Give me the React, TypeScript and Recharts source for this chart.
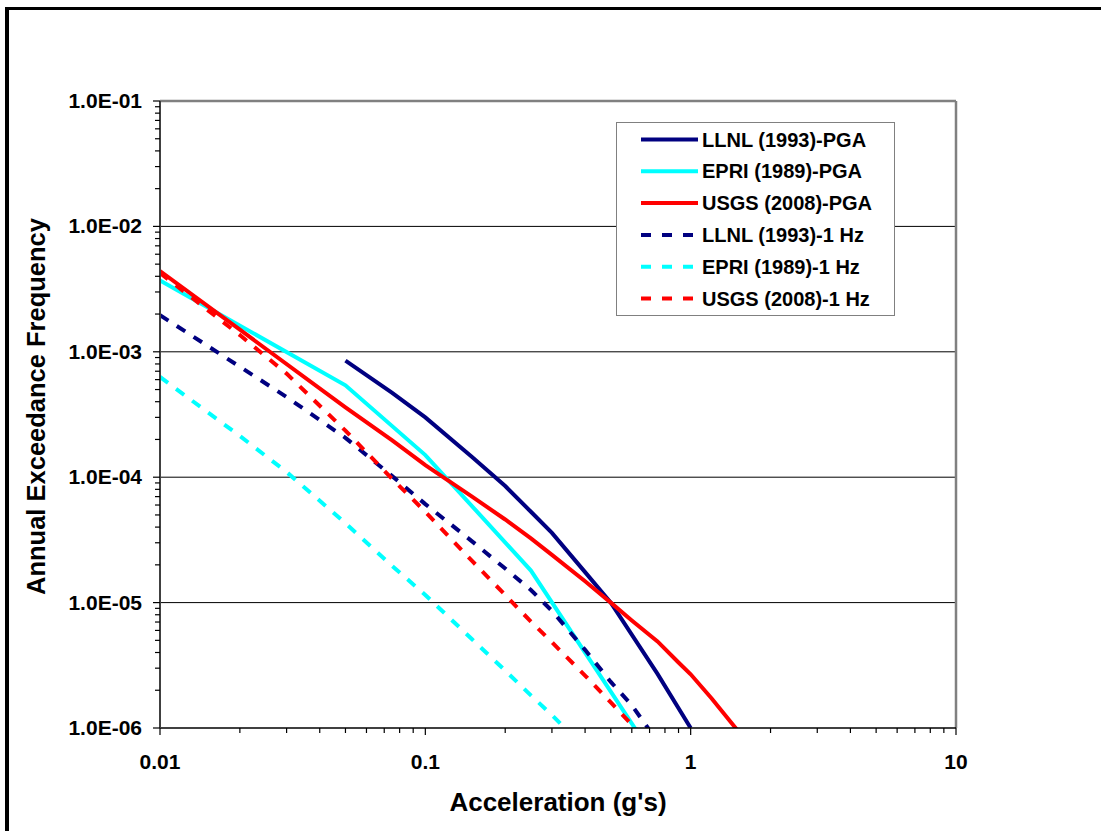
import { Label, Legend, Line, LineChart, ReferenceLine, XAxis, YAxis } from 'recharts';

const FONT = '"Liberation Sans", Arial, Helvetica, sans-serif';
const NAVY = '#000080';
const CYAN = '#00FFFF';
const RED = '#FF0000';

// axis ticks
const X_MAJOR = [0.01, 0.1, 1, 10];
const X_LABELS = ['0.01', '0.1', '1', '10'];
const Y_MAJOR = [1e-6, 1e-5, 1e-4, 1e-3, 1e-2, 1e-1];
const Y_LABELS = ['1.0E-06', '1.0E-05', '1.0E-04', '1.0E-03', '1.0E-02', '1.0E-01'];
const MINOR_STEPS = [2, 3, 4, 5, 6, 7, 8, 9];

// hazard curves, acceleration (g) vs annual exceedance frequency
const LLNL_PGA_X = [0.05, 0.075, 0.1, 0.15, 0.2, 0.25, 0.3, 0.4, 0.5, 0.75, 1.0];
const LLNL_PGA_Y = [8.5e-4, 4.7e-4, 3.0e-4, 1.45e-4, 8.5e-5, 5.3e-5, 3.6e-5, 1.75e-5, 1.0e-5, 2.7e-6, 1.0e-6];

const EPRI_PGA_X = [0.01, 0.05, 0.1, 0.25, 0.5, 0.75];
const EPRI_PGA_Y = [3.7e-3, 5.4e-4, 1.5e-4, 1.8e-5, 1.95e-6, 5.3e-7];

const USGS_PGA_X = [0.01, 0.02, 0.05, 0.075, 0.1, 0.15, 0.2, 0.25, 0.3, 0.4, 0.5, 0.6, 0.75, 0.9, 1.0, 1.2, 1.5];
const USGS_PGA_Y = [
  4.4e-3, 1.5e-3, 3.6e-4, 1.97e-4, 1.25e-4, 7.0e-5, 4.6e-5, 3.25e-5, 2.4e-5, 1.48e-5, 1.0e-5, 7.2e-6, 4.9e-6, 3.33e-6,
  2.68e-6, 1.72e-6, 9.6e-7,
];

const LLNL_1HZ_X = [0.01, 0.02, 0.03, 0.05, 0.075, 0.1, 0.15, 0.2, 0.25, 0.3, 0.4, 0.5, 0.6, 0.7];
const LLNL_1HZ_Y = [1.96e-3, 7.6e-4, 4.36e-4, 2.06e-4, 1.02e-4, 6.1e-5, 3.08e-5, 1.87e-5, 1.26e-5, 8.6e-6, 4.2e-6, 2.33e-6, 1.52e-6, 9.6e-7];

const EPRI_1HZ_X = [0.01, 0.02, 0.03, 0.05, 0.075, 0.1, 0.15, 0.2, 0.25, 0.3, 0.35];
const EPRI_1HZ_Y = [6.3e-4, 2.13e-4, 1.1e-4, 4.3e-5, 1.96e-5, 1.15e-5, 5.1e-6, 2.87e-6, 1.82e-6, 1.27e-6, 9.1e-7];

const USGS_1HZ_X = [0.01, 0.02, 0.03, 0.05, 0.075, 0.1, 0.15, 0.2, 0.25, 0.3, 0.4, 0.5, 0.6, 0.7];
const USGS_1HZ_Y = [4.25e-3, 1.36e-3, 6.7e-4, 2.35e-4, 9.7e-5, 5.3e-5, 2.15e-5, 1.15e-5, 7.05e-6, 4.83e-6, 2.62e-6, 1.6e-6, 1.06e-6, 7.6e-7];

const toPoints = (xs: number[], ys: number[]) => xs.map((x, i) => ({ x, y: ys[i] }));

const SERIES = [
  { name: 'LLNL (1993)-PGA', data: toPoints(LLNL_PGA_X, LLNL_PGA_Y), color: NAVY, dash: undefined },
  { name: 'EPRI (1989)-PGA', data: toPoints(EPRI_PGA_X, EPRI_PGA_Y), color: CYAN, dash: undefined },
  { name: 'USGS (2008)-PGA', data: toPoints(USGS_PGA_X, USGS_PGA_Y), color: RED, dash: undefined },
  { name: 'LLNL (1993)-1 Hz', data: toPoints(LLNL_1HZ_X, LLNL_1HZ_Y), color: NAVY, dash: '10 10' },
  { name: 'EPRI (1989)-1 Hz', data: toPoints(EPRI_1HZ_X, EPRI_1HZ_Y), color: CYAN, dash: '10 10' },
  { name: 'USGS (2008)-1 Hz', data: toPoints(USGS_1HZ_X, USGS_1HZ_Y), color: RED, dash: '10 10' },
];

const minorTicks = (majors: number[]) =>
  majors.slice(0, -1).flatMap((m) => MINOR_STEPS.map((k) => +(m * k).toPrecision(6)));

const X_TICKS = [...X_MAJOR, ...minorTicks(X_MAJOR)];
const Y_TICKS = [...Y_MAJOR, ...minorTicks(Y_MAJOR)];

const labelStyle = { fontFamily: FONT, fontWeight: 700, fontSize: 20, fill: '#000' };
const tickStyle = { ...labelStyle, fontSize: 21 };

function XTick(props: any) {
  const { x, y, payload } = props;
  const idx = X_MAJOR.indexOf(payload.value);
  return (
    <g>
      <line x1={x} x2={x} y1={y} y2={y + (idx >= 0 ? 7 : 5)} stroke="#000" strokeWidth={1.2} />
      {idx >= 0 && (
        <text x={x} y={y + 41} textAnchor="middle" style={tickStyle}>
          {X_LABELS[idx]}
        </text>
      )}
    </g>
  );
}

function YTick(props: any) {
  const { x, y, payload } = props;
  const idx = Y_MAJOR.indexOf(payload.value);
  return (
    <g>
      <line x1={x - (idx >= 0 ? 7 : 5)} x2={x} y1={y} y2={y} stroke="#000" strokeWidth={1.2} />
      {idx >= 0 && (
        <text x={x - 18} y={y + 7} textAnchor="end" style={tickStyle}>
          {Y_LABELS[idx]}
        </text>
      )}
    </g>
  );
}

function XTitle(props: any) {
  const { viewBox } = props;
  return (
    <text
      x={viewBox.x + viewBox.width / 2}
      y={viewBox.y + 83}
      textAnchor="middle"
      style={{ ...labelStyle, fontSize: 26 }}
    >
      Acceleration (g's)
    </text>
  );
}

function YTitle(props: any) {
  const { viewBox } = props;
  const cx = viewBox.x + 45;
  const cy = viewBox.y + viewBox.height / 2 - 8;
  return (
    <text
      x={cx}
      y={cy}
      transform={`rotate(-90, ${cx}, ${cy})`}
      textAnchor="middle"
      style={{ ...labelStyle, fontSize: 25.5 }}
    >
      Annual Exceedance Frequency
    </text>
  );
}

function LegendBox() {
  return (
    <div
      style={{
        width: 279,
        height: 194,
        border: '1.5px solid #808080',
        background: '#fff',
        boxSizing: 'border-box',
      }}
    >
      <svg width={276} height={191} style={{ display: 'block' }}>
        {SERIES.map((s, i) => {
          const cy = 16.5 + i * 31.8;
          return (
            <g key={s.name}>
              <line
                x1={24}
                x2={81}
                y1={cy}
                y2={cy}
                stroke={s.color}
                strokeWidth={4}
                strokeDasharray={s.dash ? '10 11' : undefined}
              />
              <text x={85} y={cy + 7} style={labelStyle}>
                {s.name}
              </text>
            </g>
          );
        })}
      </svg>
    </div>
  );
}

export default function App() {
  return (
    <>
      <div
        style={{
          position: 'absolute',
          left: 5,
          top: 7,
          width: 1096,
          height: 824,
          borderLeft: '4px solid #000',
          borderTop: '3px solid #000',
          boxSizing: 'border-box',
        }}
      />
      <div style={{ position: 'absolute', left: 0, top: 0, width: 1101, height: 831 }}>
        <LineChart width={1101} height={831} margin={{ top: 101, right: 145, bottom: 0, left: 0 }}>
          <XAxis
            dataKey="x"
            type="number"
            scale="log"
            domain={[0.01, 10]}
            allowDataOverflow
            ticks={X_TICKS}
            interval={0}
            tickSize={0}
            tickMargin={0}
            tickLine={false}
            tick={<XTick />}
            height={103}
            axisLine={{ stroke: '#000', strokeWidth: 1.5 }}
          >
            <Label content={<XTitle />} />
          </XAxis>
          <YAxis
            dataKey="y"
            type="number"
            scale="log"
            domain={[1e-6, 0.1]}
            allowDataOverflow
            ticks={Y_TICKS}
            interval={0}
            tickSize={0}
            tickMargin={0}
            tickLine={false}
            tick={<YTick />}
            width={160}
            axisLine={{ stroke: '#404040', strokeWidth: 2 }}
          >
            <Label content={<YTitle />} />
          </YAxis>
          {Y_MAJOR.slice(1, -1).map((v) => (
            <ReferenceLine key={v} y={v} stroke="#000" strokeWidth={1} ifOverflow="visible" />
          ))}
          <ReferenceLine y={0.1} stroke="#808080" strokeWidth={2.5} ifOverflow="visible" />
          <ReferenceLine x={10} stroke="#808080" strokeWidth={2.5} ifOverflow="visible" />
          {SERIES.map((s) => (
            <Line
              key={s.name}
              name={s.name}
              data={s.data}
              dataKey="y"
              type="linear"
              stroke={s.color}
              strokeWidth={4}
              strokeDasharray={s.dash}
              dot={false}
              activeDot={false}
              isAnimationActive={false}
            />
          ))}
          <Legend
            layout="vertical"
            align="center"
            verticalAlign="middle"
            content={() => <LegendBox />}
            wrapperStyle={{ left: 616, top: 122, width: 279, height: 194 }}
          />
        </LineChart>
      </div>
    </>
  );
}
